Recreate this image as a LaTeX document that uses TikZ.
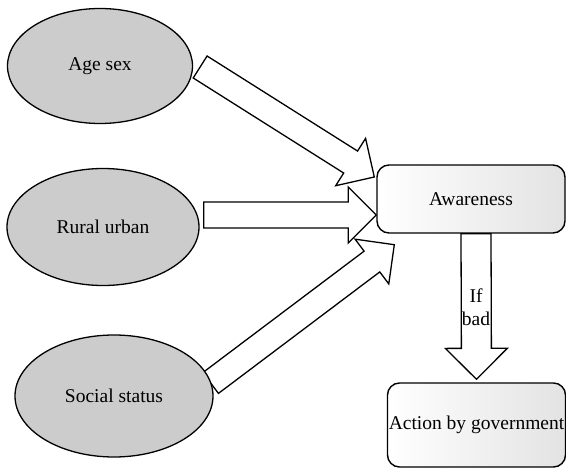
\documentclass[tikz,border=0pt]{standalone}
\usepackage{fontspec}
\setmainfont{Liberation Serif}
\usetikzlibrary{calc,shapes.geometric}
\pgfdeclarelayer{bg}
\pgfsetlayers{bg,main}

% block arrow: from, to, half shaft width, half head width
\newcommand{\fatarrow}[4]{%
  \coordinate (fa-h) at ($(#2)!#4!(#1)$);
  \draw[fat] ($(#1)!#3!90:(#2)$) -- ($(fa-h)!#3!90:(#2)$) -- ($(fa-h)!#4!90:(#2)$) -- (#2)
    -- ($(fa-h)!#4!-90:(#2)$) -- ($(fa-h)!#3!-90:(#2)$) -- ($(#1)!#3!-90:(#2)$) -- cycle;
}

\begin{document}
\begin{tikzpicture}[x=1pt, y=-1pt, font=\fontsize{19.5}{23}\selectfont,
  cause/.style={ellipse, draw, line width=1.3pt, fill=gray!40, inner sep=0pt},
  box/.style={rounded corners=12pt, draw, line width=1.4pt, left color=white, right color=gray!22, inner sep=0pt},
  fat/.style={draw, fill=white, line width=1.3pt, line join=miter}]
  \useasboundingbox (0,0) rectangle (566,468);

  \node[cause, minimum width=185pt, minimum height=115pt] (age) at (100,66) {Age sex};
  \node[cause, minimum width=192pt, minimum height=117pt] (rural) at (103,227) {Rural urban};
  \node[cause, minimum width=198pt, minimum height=122pt] (social) at (114,396) {Social status};

  \node[box, minimum width=188pt, minimum height=68pt] (aware) at (471,199) {Awareness};
  \node[box, minimum width=178pt, minimum height=84pt] (action) at (476.5,425) {Action by government};

  % arrow ends
  \coordinate (s1) at ($(age.east)+(7,1)$);
  \coordinate (t1) at ($(aware.west)+(-2,-22)$);
  \coordinate (s2) at ($(rural.east)+(4,-12)$);
  \coordinate (t2) at ($(aware.west)+(0,16)$);
  \coordinate (s3) at ($(social.east)+(-3,-13)$);
  \coordinate (t3) at ($(aware.south west)+(18,11)$);
  \coordinate (s4) at ($(aware.south)+(5,0)$);
  \coordinate (t4) at ($(action.north)+(0,-3)$);

  \begin{pgfonlayer}{bg}
    \fatarrow{s1}{t1}{13pt}{28pt}
    \fatarrow{s2}{t2}{13pt}{28pt}
    \fatarrow{s3}{t3}{13pt}{28pt}
    \fatarrow{s4}{t4}{15pt}{31pt}
  \end{pgfonlayer}

  \node[align=center, inner sep=0pt] (ifbad) at (476,307) {If\\bad};
\end{tikzpicture}
\end{document}
